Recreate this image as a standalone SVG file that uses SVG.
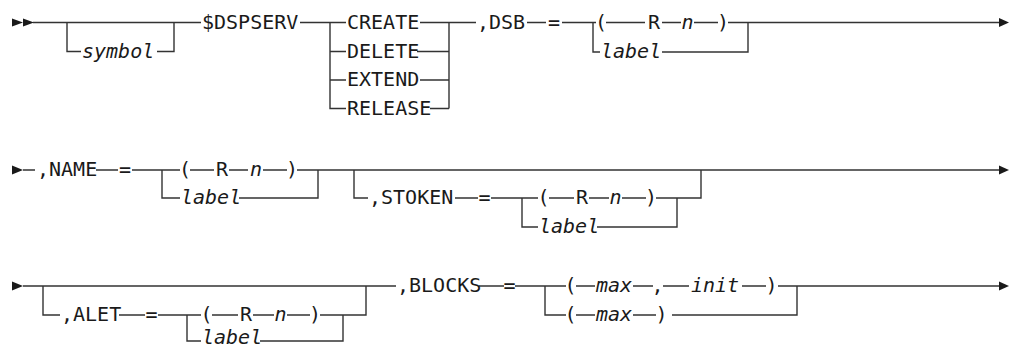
<svg xmlns="http://www.w3.org/2000/svg" width="1010" height="349" viewBox="0 0 1010 349">
<style>
.ln{stroke:#333;stroke-width:1.4;fill:none}
.ah{fill:#1a1a1a}
.t{font-family:"DejaVu Sans Mono","Liberation Mono",monospace;font-size:20px;fill:#1a1a1a}
.i{font-style:italic}
.m{text-anchor:middle}
</style>
<rect width="1010" height="349" fill="#fff"/>
<g id="connectors">
<!-- row 1 -->
<polygon class="ah" points="12,18.5 12,26.5 23,22.5"/>
<polygon class="ah" points="23,18.5 23,26.5 34,22.5"/>
<path class="ln" d="M33 22.5H201 M67 22.5V51.5H81 M157 51.5H174V22.5"/>
<path class="ln" d="M300 22.5H346 M330 22.5V108.5H346 M330 51.5H346 M330 80H346"/>
<path class="ln" d="M420 22.5H476 M417 51.5H449 M420 80H449 M430 108.5H449 M449 22.5V108.5"/>
<path class="ln" d="M527 22.5H546 M562 22.5H596 M593 22.5V52H600 M606 22.5H645 M662 22.5H681 M694 22.5H718 M728 22.5H748V52H662 M748 22.5H1000"/>
<polygon class="ah" points="999,18 999,27 1009,22.5"/>
<!-- row 2 -->
<polygon class="ah" points="12,165.5 12,174.5 23,170"/>
<path class="ln" d="M23 170H35 M96 170H118 M132 170H180 M162 170V198H180 M190 170H214 M229 170H248 M263 170H287 M297 170H318V198H239 M318 170H1000"/>
<path class="ln" d="M354 170V198H368 M455 198H478 M491 198H538 M522 198V227H538 M549 198H574 M589 198H609 M622 198H646 M656 198H677V227H597 M677 198H701V170"/>
<polygon class="ah" points="999,165.5 999,174.5 1009,170"/>
<!-- row 3 -->
<polygon class="ah" points="12,281.5 12,290.5 23,286"/>
<path class="ln" d="M23 286H396 M43 286V315H60 M119 315H145 M158 315H201 M187 315V341H201 M212 315H238 M253 315H274 M287 315H310 M320 315H343V341H260 M343 315H366V286"/>
<path class="ln" d="M479 286H504 M515 286H566 M545 286V315H566 M576 286H595 M633 286H653 M663 286H689 M742 286H766 M778 286H797V315H672 M576 315H595 M633 315H656 M797 286H1000"/>
<polygon class="ah" points="999,281.5 999,290.5 1009,286"/>
</g>
<!-- row 1 nodes -->
<g id="n-symbol"><text class="t i" x="82" y="57.5">symbol</text></g>
<g id="n-dspserv"><text class="t" x="202" y="28.5">$DSPSERV</text></g>
<g id="n-create"><text class="t" x="347" y="28.5">CREATE</text></g>
<g id="n-delete"><text class="t" x="347" y="57.5">DELETE</text></g>
<g id="n-extend"><text class="t" x="347" y="86">EXTEND</text></g>
<g id="n-release"><text class="t" x="347" y="114.5">RELEASE</text></g>
<g id="n-dsb"><text class="t" x="477" y="28.5">,DSB</text></g>
<g id="n-dsb-eq"><text class="t m" x="554" y="28.5">=</text></g>
<g id="n-dsb-lp"><text class="t m" x="601" y="28.5">(</text></g>
<g id="n-dsb-r"><text class="t m" x="654" y="28.5">R</text></g>
<g id="n-dsb-n"><text class="t i m" x="687.5" y="28.5">n</text></g>
<g id="n-dsb-rp"><text class="t m" x="723" y="28.5">)</text></g>
<g id="n-dsb-label"><text class="t i" x="601" y="58">label</text></g>
<!-- row 2 nodes -->
<g id="n-name"><text class="t" x="37" y="176">,NAME</text></g>
<g id="n-name-eq"><text class="t m" x="125" y="176">=</text></g>
<g id="n-name-lp"><text class="t m" x="185" y="176">(</text></g>
<g id="n-name-r"><text class="t m" x="222" y="176">R</text></g>
<g id="n-name-n"><text class="t i m" x="256" y="176">n</text></g>
<g id="n-name-rp"><text class="t m" x="292" y="176">)</text></g>
<g id="n-name-label"><text class="t i" x="181" y="204">label</text></g>
<g id="n-stoken"><text class="t" x="369" y="204">,STOKEN</text></g>
<g id="n-stoken-eq"><text class="t m" x="484.5" y="204">=</text></g>
<g id="n-stoken-lp"><text class="t m" x="543.5" y="204">(</text></g>
<g id="n-stoken-r"><text class="t m" x="582" y="204">R</text></g>
<g id="n-stoken-n"><text class="t i m" x="615.5" y="204">n</text></g>
<g id="n-stoken-rp"><text class="t m" x="651" y="204">)</text></g>
<g id="n-stoken-label"><text class="t i" x="539" y="233">label</text></g>
<!-- row 3 nodes -->
<g id="n-alet"><text class="t" x="61" y="321">,ALET</text></g>
<g id="n-alet-eq"><text class="t m" x="151.5" y="321">=</text></g>
<g id="n-alet-lp"><text class="t m" x="206.5" y="321">(</text></g>
<g id="n-alet-r"><text class="t m" x="246" y="321">R</text></g>
<g id="n-alet-n"><text class="t i m" x="280.5" y="321">n</text></g>
<g id="n-alet-rp"><text class="t m" x="315" y="321">)</text></g>
<g id="n-alet-label"><text class="t i" x="202" y="344">label</text></g>
<g id="n-blocks"><text class="t" x="397" y="292">,BLOCKS</text></g>
<g id="n-blocks-eq"><text class="t m" x="509.5" y="292">=</text></g>
<g id="n-blocks-lp1"><text class="t m" x="570.5" y="292">(</text></g>
<g id="n-blocks-max1"><text class="t i" x="596" y="292">max</text></g>
<g id="n-blocks-comma"><text class="t m" x="657.5" y="292">,</text></g>
<g id="n-blocks-init"><text class="t i" x="691" y="292">init</text></g>
<g id="n-blocks-rp1"><text class="t m" x="771.5" y="292">)</text></g>
<g id="n-blocks-lp2"><text class="t m" x="570.5" y="321">(</text></g>
<g id="n-blocks-max2"><text class="t i" x="596" y="321">max</text></g>
<g id="n-blocks-rp2"><text class="t m" x="661.5" y="321">)</text></g>
</svg>
